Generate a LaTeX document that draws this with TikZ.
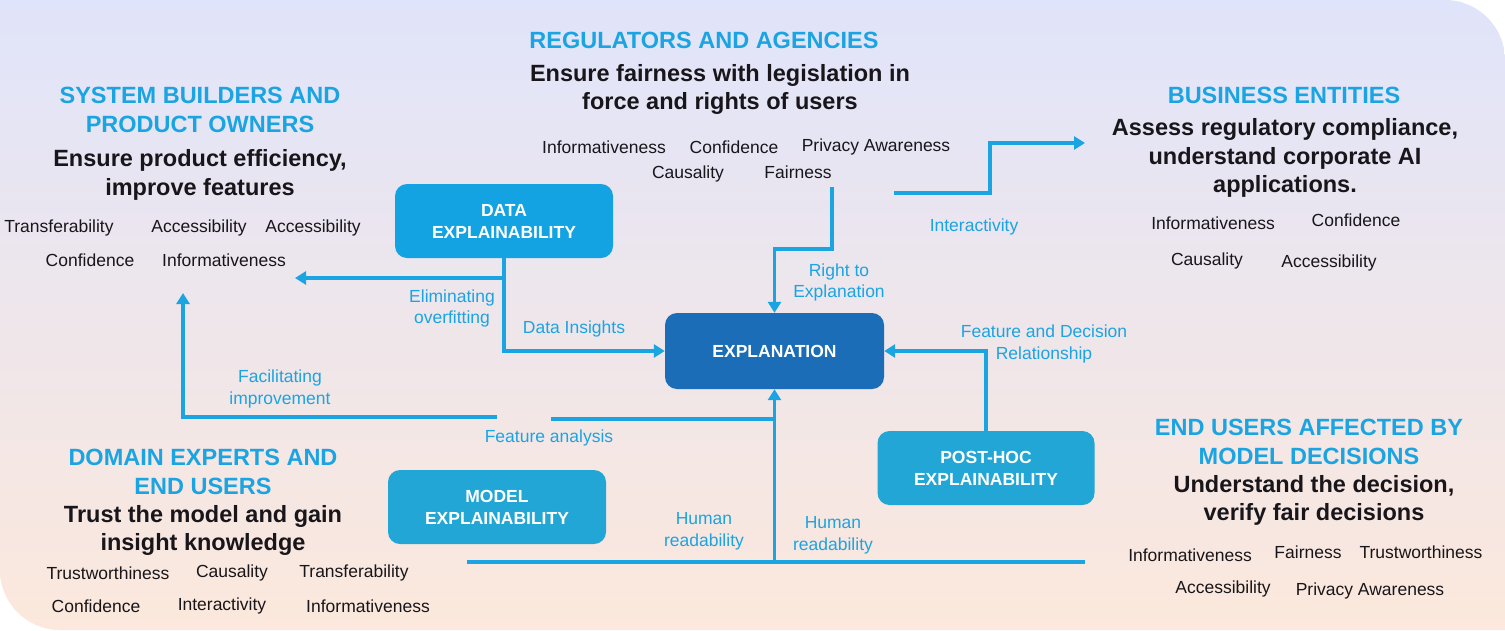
\documentclass[tikz,border=0pt]{standalone}
\usepackage{fontspec}
\setmainfont{Liberation Sans}
\usetikzlibrary{arrows.meta,positioning,calc}
\definecolor{sky}{RGB}{27,164,226}
\definecolor{ink}{RGB}{24,22,26}
\definecolor{databox}{RGB}{19,163,227}
\definecolor{modbox}{RGB}{33,166,214}
\definecolor{explbox}{RGB}{26,109,182}
\definecolor{bgtop}{RGB}{224,228,250}
\definecolor{bgbot}{RGB}{252,232,220}
\tikzset{
  every picture/.style={font=\fontsize{17.5}{21.5}\selectfont},
  hdr/.style={text=sky,font=\fontsize{23.5}{28.5}\selectfont\bfseries,align=center},
  goal/.style={text=ink,font=\fontsize{23.5}{28.5}\selectfont\bfseries,align=center},
  trait/.style={text=ink},
  lbl/.style={text=sky,align=center},
  xbox/.style={fill=#1,text=white,rounded corners=12pt,minimum width=218pt,minimum height=74pt,align=center,font=\fontsize{17.5}{22}\selectfont\bfseries},
  wire/.style={draw=sky,line width=3.5pt},
  flow/.style={wire,-{Triangle[length=11pt,width=13pt]}},
}

\begin{document}
\begin{tikzpicture}[x=1pt,y=-1pt]
  \useasboundingbox (0,0) rectangle (1505,630);
  \shade[top color=bgtop,bottom color=bgbot] (0,0) -- (1445,0) arc[start angle=-90,end angle=0,radius=60]
    -- (1505,630) -- (60,630) arc[start angle=90,end angle=180,radius=60] -- cycle;

  % stakeholders
  \node[hdr] (sbh) at (200,110) {SYSTEM BUILDERS AND\\PRODUCT OWNERS};
  \node[goal] (sbg) at (200,175) {Ensure product efficiency,\\improve features};
  \node[hdr] (regh) at (704,40.5) {REGULATORS AND AGENCIES};
  \node[goal] (regg) at (720,89.5) {Ensure fairness with legislation in\\force and rights of users};
  \node[hdr] (bush) at (1284,95.5) {BUSINESS ENTITIES};
  \node[goal] (busg) at (1285,158) {Assess regulatory compliance,\\understand corporate AI\\applications.};
  \node[hdr] (endh) at (1309,442) {END USERS AFFECTED BY\\MODEL DECISIONS};
  \node[goal] (endg) at (1314,500.5) {Understand the decision,\\verify fair decisions};
  \node[hdr] (domh) at (203,472) {DOMAIN EXPERTS AND\\END USERS};
  \node[goal] (domg) at (203,530.5) {Trust the model and gain\\insight knowledge};

  \foreach \t/\x/\y [count=\i] in {Transferability/59/228,Accessibility/199/228,Accessibility/313/228,Confidence/90/260,Informativeness/224/260}
    \node[trait] (sb\i) at (\x,\y) {\t};
  \foreach \t/\x/\y [count=\i] in {Informativeness/604/147,Confidence/734/147,Privacy Awareness/876/147,Causality/688/174,Fairness/798/172}
    \node[trait] (reg\i) at (\x,\y) {\t};
  \foreach \t/\x/\y [count=\i] in {Informativeness/1213/223,Confidence/1356/220,Causality/1207/261,Accessibility/1329/263}
    \node[trait] (bus\i) at (\x,\y) {\t};
  \foreach \t/\x/\y [count=\i] in {Informativeness/1190/555,Fairness/1308/552,Trustworthiness/1421/552,Accessibility/1223/589,Privacy Awareness/1370/591}
    \node[trait] (end\i) at (\x,\y) {\t};
  \foreach \t/\x/\y [count=\i] in {Trustworthiness/108/573,Causality/232/573,Transferability/354/573,Confidence/96/606,Interactivity/222/606,Informativeness/368/606}
    \node[trait] (dom\i) at (\x,\y) {\t};

  % explainability boxes
  \node[xbox=databox] (data) at (504,221) {DATA\\EXPLAINABILITY};
  \node[xbox=modbox] (model) at (497,507) {MODEL\\EXPLAINABILITY};
  \node[xbox=modbox,minimum width=217pt] (post) at (986,468) {POST-HOC\\EXPLAINABILITY};
  \node[xbox=explbox,minimum width=219pt,minimum height=76pt] (expl) at (774.5,351) {EXPLANATION};

  \coordinate (sbtip) at (295,278);
  \coordinate (fair) at (832,187);
  \coordinate (ia) at (894,193);
  \coordinate (iatip) at (1085,143);
  \coordinate (hl) at (467,562);
  \coordinate (hr) at (1085,562);
  \coordinate (fa) at (551,419);
  \coordinate (fb) at (497,417);
  \coordinate (fatip) at (183,293);

  \draw[flow] (data.south) |- (expl.west);
  \draw[flow] (data.south |- sbtip) -- (sbtip);
  \draw[flow] (fair) -- ++(0,62) -| (expl.north);
  \draw[flow] (ia) -- (990,193) |- (iatip);
  \draw[flow] (post.north) |- (expl.east);
  \draw[wire] (hl) -- (hr);
  \draw[flow] (expl.south |- hl) -- (expl.south);
  \draw[wire] (expl.south |- fa) -- (fa);
  \draw[flow] (fb) -| (fatip);

  \node[lbl] (l1) at (452,308.5) {Eliminating\\overfitting};
  \node[lbl] (l2) at (574,329) {Data Insights};
  \node[lbl] (l3) at (839,282.5) {Right to\\Explanation};
  \node[lbl] (l4) at (974,227) {Interactivity};
  \node[lbl] (l5) at (1044,344) {Feature and Decision\\Relationship};
  \node[lbl] (l6) at (280,389) {Facilitating\\improvement};
  \node[lbl] (l7) at (549,438) {Feature analysis};
  \node[lbl] (l8) at (704,531.5) {Human\\readability};
  \node[lbl] (l9) at (833,535.5) {Human\\readability};
\end{tikzpicture}
\end{document}
